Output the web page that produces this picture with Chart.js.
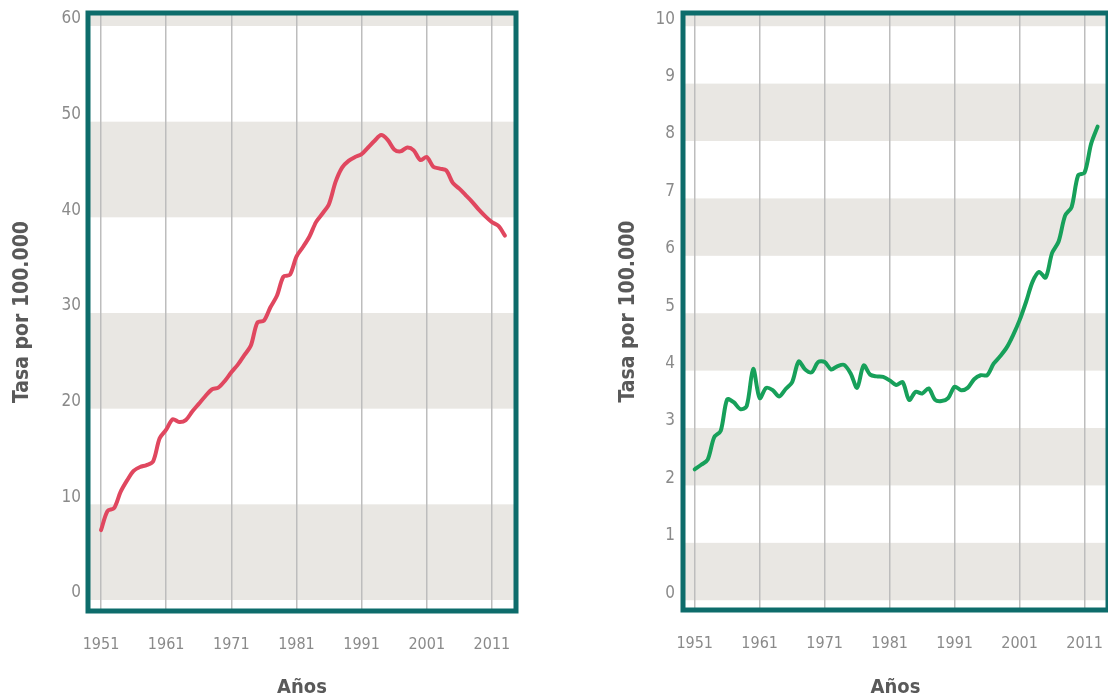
<!DOCTYPE html>
<html>
<head>
<meta charset="utf-8">
<script src="https://cdn.jsdelivr.net/npm/chart.js@4"></script>
<style>
  html, body { margin: 0; padding: 0; background: #fff; overflow: hidden; }
  .box { position: absolute; top: 0; height: 700px; }
  #left { left: 0; width: 540px; }
  #right { left: 600px; width: 508px; }
</style>
</head>
<body>
<div class="box" id="left"><canvas id="tasaHombres"></canvas></div>
<div class="box" id="right"><canvas id="tasaMujeres"></canvas></div>
<script>
const years = [];
for (let y = 1951; y <= 2013; y++) years.push(y);

const redValues = [
  7.3, 9.3, 9.6, 11.3, 12.5, 13.5, 13.9, 14.1, 14.5, 16.9,
  17.8, 18.9, 18.6, 18.8, 19.7, 20.5, 21.3, 22.0, 22.2, 22.9,
  23.8, 24.6, 25.6, 26.6, 29.0, 29.2, 30.6, 31.8, 33.8, 34.0,
  35.9, 36.9, 38.0, 39.5, 40.4, 41.4, 43.7, 45.2, 45.9, 46.3,
  46.6, 47.3, 48.0, 48.6, 48.1, 47.1, 46.9, 47.3, 47.0, 46.0,
  46.3, 45.3, 45.1, 44.9, 43.6, 43.0, 42.3, 41.6, 40.8, 40.1,
  39.5, 39.1, 38.1
];

const greenValues = [
  2.28, 2.36, 2.45, 2.84, 2.95, 3.50, 3.45, 3.33, 3.38, 4.03,
  3.52, 3.70, 3.66, 3.55, 3.68, 3.80, 4.16, 4.02, 3.97, 4.15,
  4.15, 4.02, 4.08, 4.10, 3.95, 3.70, 4.09, 3.93, 3.90, 3.89,
  3.83, 3.75, 3.80, 3.49, 3.63, 3.60, 3.69, 3.49, 3.47, 3.52,
  3.72, 3.66, 3.70, 3.85, 3.92, 3.92, 4.12, 4.25, 4.40, 4.62,
  4.88, 5.20, 5.55, 5.72, 5.62, 6.05, 6.25, 6.70, 6.85, 7.40,
  7.45, 7.95, 8.25
];

const yearTicks = [1951, 1961, 1971, 1981, 1991, 2001, 2011];
const redTicks = [0, 10, 20, 30, 40, 50, 60];
const greenTicks = [0, 1, 2, 3, 4, 5, 6, 7, 8, 9, 10];
const redBands = [[0, 10], [20, 30], [40, 50], [60, 70]];
const greenBands = [[0, 1], [2, 3], [4, 5], [6, 7], [8, 9], [10, 11]];

Chart.defaults.font.family = "'Liberation Sans Narrow', 'DejaVu Sans Condensed', 'Roboto Condensed', sans-serif";

const frameColor = '#0d6c6b';
const bandColor = '#e9e7e3';
const tickColor = '#8a8a8a';
const titleColor = '#595959';

const bandsPlugin = {
  id: 'bands',
  beforeDraw(chart, args, opts) {
    const { ctx, chartArea: a, scales: { y } } = chart;
    ctx.save();
    ctx.fillStyle = bandColor;
    opts.ranges.forEach(([lo, hi]) => {
      const top = Math.max(y.getPixelForValue(hi), a.top);
      const bottom = Math.min(y.getPixelForValue(lo), a.bottom);
      if (bottom > top) ctx.fillRect(a.left, top, a.right - a.left, bottom - top);
    });
    ctx.restore();
  }
};

const framePlugin = {
  id: 'frame',
  afterDraw(chart) {
    const { ctx, chartArea: a } = chart;
    ctx.save();
    ctx.strokeStyle = frameColor;
    ctx.lineWidth = 5;
    ctx.strokeRect(a.left, a.top, a.right - a.left, a.bottom - a.top);
    ctx.restore();
  }
};

function makeChart(id, values, color, yTicks, bands, o) {
  new Chart(document.getElementById(id), {
    type: 'line',
    data: {
      labels: years,
      datasets: [{
        data: years.map((yr, i) => ({ x: yr, y: values[i] })),
        borderColor: color,
        borderWidth: 4,
        pointRadius: 0,
        tension: 0.3,
        borderCapStyle: 'round',
        borderJoinStyle: 'round'
      }]
    },
    plugins: [bandsPlugin, framePlugin],
    options: {
      responsive: true,
      maintainAspectRatio: false,
      animation: false,
      layout: { padding: { top: 13, left: 0, right: o.padRight, bottom: 0 } },
      plugins: {
        legend: { display: false },
        tooltip: { enabled: false },
        bands: { ranges: bands }
      },
      scales: {
        x: {
          type: 'linear',
          min: o.xMin,
          max: o.xMax,
          afterBuildTicks: s => { s.ticks = yearTicks.map(v => ({ value: v })); },
          afterFit: s => { s.height = o.xHeight; s.paddingLeft = 0; s.paddingRight = 0; },
          border: { display: false },
          grid: { color: '#bdbdbd', lineWidth: 1.5, drawTicks: false },
          ticks: {
            color: tickColor,
            font: { size: 16 },
            padding: 24,
            maxRotation: 0,
            callback: v => String(v)
          },
          title: {
            display: true,
            text: 'Años',
            color: titleColor,
            font: { size: 20, weight: 'bold' },
            padding: { top: 0, bottom: 0 }
          }
        },
        y: {
          min: o.yMin,
          max: o.yMax,
          afterBuildTicks: s => { s.ticks = yTicks.map(v => ({ value: v })); },
          afterFit: s => { s.width = o.yWidth; s.paddingTop = 0; s.paddingBottom = 0; },
          border: { display: false },
          grid: { display: false, drawTicks: false },
          ticks: {
            color: tickColor,
            font: { size: 17 },
            padding: o.tickPad,
            labelOffset: -7
          },
          title: {
            display: true,
            text: 'Tasa por 100.000',
            color: titleColor,
            font: { size: 21, weight: 'bold' },
            padding: { top: o.titlePad, bottom: 0 }
          }
        }
      }
    }
  });
}

makeChart('tasaHombres', redValues, '#e0475f', redTicks, redBands,
  { xMin: 1949.0, xMax: 2014.7, yMin: -1.15, yMax: 61.36, xHeight: 89, yWidth: 88, padRight: 24, tickPad: 7, titlePad: 10 });

makeChart('tasaMujeres', greenValues, '#17a05a', greenTicks, greenBands,
  { xMin: 1949.2, xMax: 2014.6, yMin: -0.17, yMax: 10.23, xHeight: 90, yWidth: 83, padRight: 0, tickPad: 8, titlePad: 16 });
</script>
</body>
</html>
